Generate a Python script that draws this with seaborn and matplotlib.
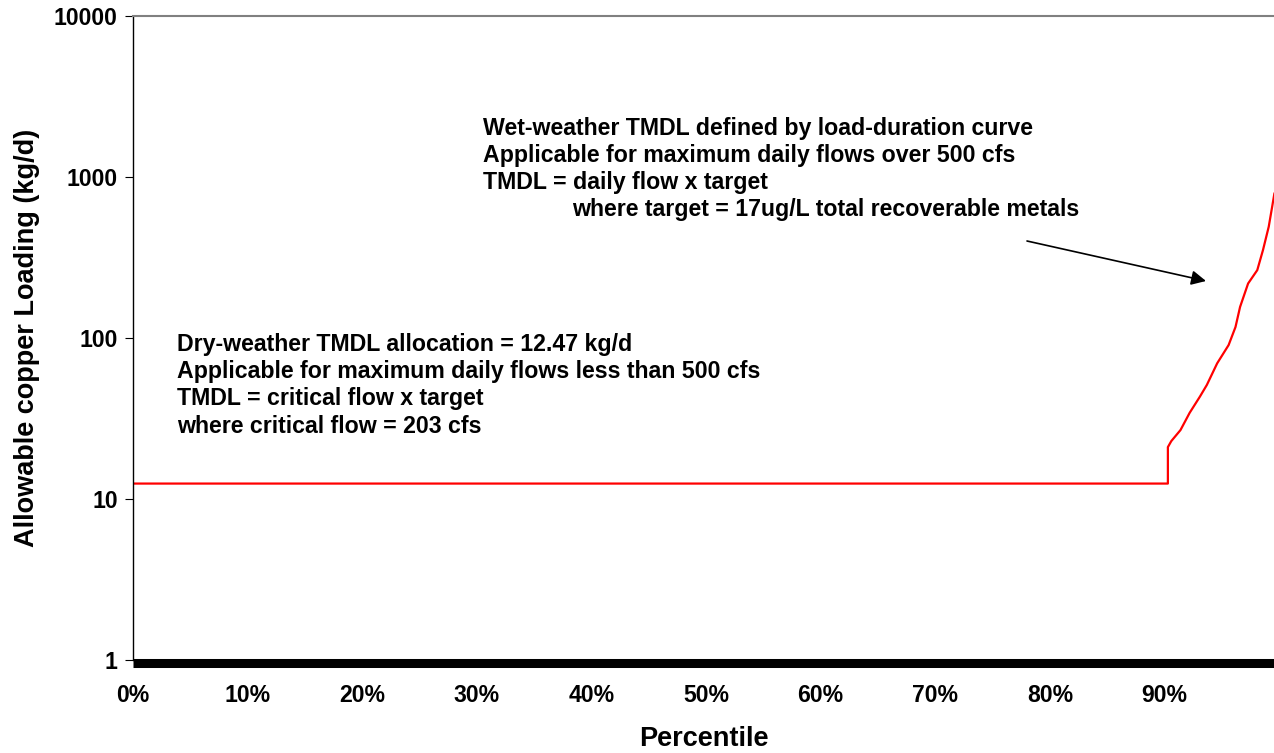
import matplotlib
matplotlib.use("Agg")
import matplotlib.pyplot as plt
from matplotlib.ticker import FixedLocator, FixedFormatter, NullLocator
import seaborn as sns
import pandas as pd

# Allowable copper loading by flow percentile
percentile = [0.0, 0.903, 0.903, 0.906, 0.914, 0.922, 0.931, 0.937, 0.946,
              0.956, 0.962, 0.966, 0.973, 0.981, 0.986, 0.991, 0.994, 0.996]
loading = [12.47, 12.47, 21.0, 22.9, 26.8, 34.3, 43.3, 51.1, 69.6,
           90.4, 117, 156, 218, 264, 352, 491, 654, 794]

y_ticks = [1, 10, 100, 1000, 10000]
y_tick_labels = ["1", "10", "100", "1000", "10000"]
x_ticks = [0.0, 0.1, 0.2, 0.3, 0.4, 0.5, 0.6, 0.7, 0.8, 0.9]
x_tick_labels = ["0%", "10%", "20%", "30%", "40%", "50%", "60%", "70%", "80%", "90%"]

wet_lines = [
    "Wet-weather TMDL defined by load-duration curve",
    "Applicable for maximum daily flows over 500 cfs",
    "TMDL = daily flow x target",
    "where target = 17ug/L total recoverable metals",
]
dry_lines = [
    "Dry-weather TMDL allocation = 12.47 kg/d",
    "Applicable for maximum daily flows less than 500 cfs",
    "TMDL = critical flow x target",
    "where critical flow = 203 cfs",
]

sns.set_theme(style="white")
plt.rcParams["font.family"] = ["Liberation Sans", "DejaVu Sans"]
plt.rcParams["font.weight"] = "bold"
plt.rcParams["text.color"] = "black"
plt.rcParams["axes.labelcolor"] = "black"
plt.rcParams["xtick.color"] = "black"
plt.rcParams["ytick.color"] = "black"

fig = plt.figure(figsize=(12.74, 7.53), dpi=100)
ax = fig.add_axes([133 / 1274, 1 - 660 / 753, 1 - 133 / 1274, (660 - 16) / 753])

df = pd.DataFrame({"percentile": percentile, "loading": loading})
sns.lineplot(data=df, x="percentile", y="loading", sort=False, estimator=None,
             color="#ff0000", linewidth=1.6, ax=ax)

ax.set_yscale("log")
ax.set_ylim(1, 10000)
ax.set_xlim(0, 0.9956)

# Frame: thin black left, grey top, heavy black floor
ax.spines["left"].set_color("black")
ax.spines["left"].set_linewidth(1.0)
ax.spines["top"].set_color("#808080")
ax.spines["top"].set_linewidth(1.5)
ax.spines["right"].set_visible(False)
ax.spines["bottom"].set_color("black")
ax.spines["bottom"].set_linewidth(6.5)
ax.spines["bottom"].set_capstyle("butt")
ax.spines["bottom"].set_position(("outward", 2))
ax.grid(False)

ax.yaxis.set_major_locator(FixedLocator(y_ticks))
ax.yaxis.set_major_formatter(FixedFormatter(y_tick_labels))
ax.yaxis.set_minor_locator(NullLocator())
ax.xaxis.set_major_locator(FixedLocator(x_ticks))
ax.xaxis.set_major_formatter(FixedFormatter(x_tick_labels))
ax.xaxis.set_minor_locator(NullLocator())

ax.tick_params(axis="y", which="major", direction="out", length=6, width=0.8,
               color="black", labelcolor="black", left=True, labelsize=16.6, pad=5)
ax.tick_params(axis="x", which="major", length=0, labelcolor="black",
               labelsize=16.6, pad=15)
for lab in ax.get_xticklabels() + ax.get_yticklabels():
    lab.set_fontweight("bold")

ax.set_xlabel("Percentile", fontsize=19.5, fontweight="bold", color="black", labelpad=14)
ax.set_ylabel("Allowable copper Loading (kg/d)", fontsize=19.5, fontweight="bold",
              color="black", labelpad=10)

# Annotation blocks placed in figure pixel coordinates
def fig_xy(px, py):
    return px / 1274, 1 - py / 753

for i, txt in enumerate(wet_lines):
    x0 = 572 if i == 3 else 483
    fx, fy = fig_xy(x0, 129 + i * 26.7)
    fig.text(fx, fy, txt, fontsize=16.7, fontweight="bold", ha="left", va="center",
             color="black")
for i, txt in enumerate(dry_lines):
    fx, fy = fig_xy(177, 344 + i * 27.4)
    fig.text(fx, fy, txt, fontsize=16.7, fontweight="bold", ha="left", va="center",
             color="black")

ax.annotate("", xy=fig_xy(1206, 281), xycoords="figure fraction",
            xytext=fig_xy(1027, 241), textcoords="figure fraction",
            arrowprops=dict(arrowstyle="-|>", color="black", lw=1.2,
                            mutation_scale=22, shrinkA=0, shrinkB=0))

fig.savefig("out.png", dpi=100, facecolor="white")
